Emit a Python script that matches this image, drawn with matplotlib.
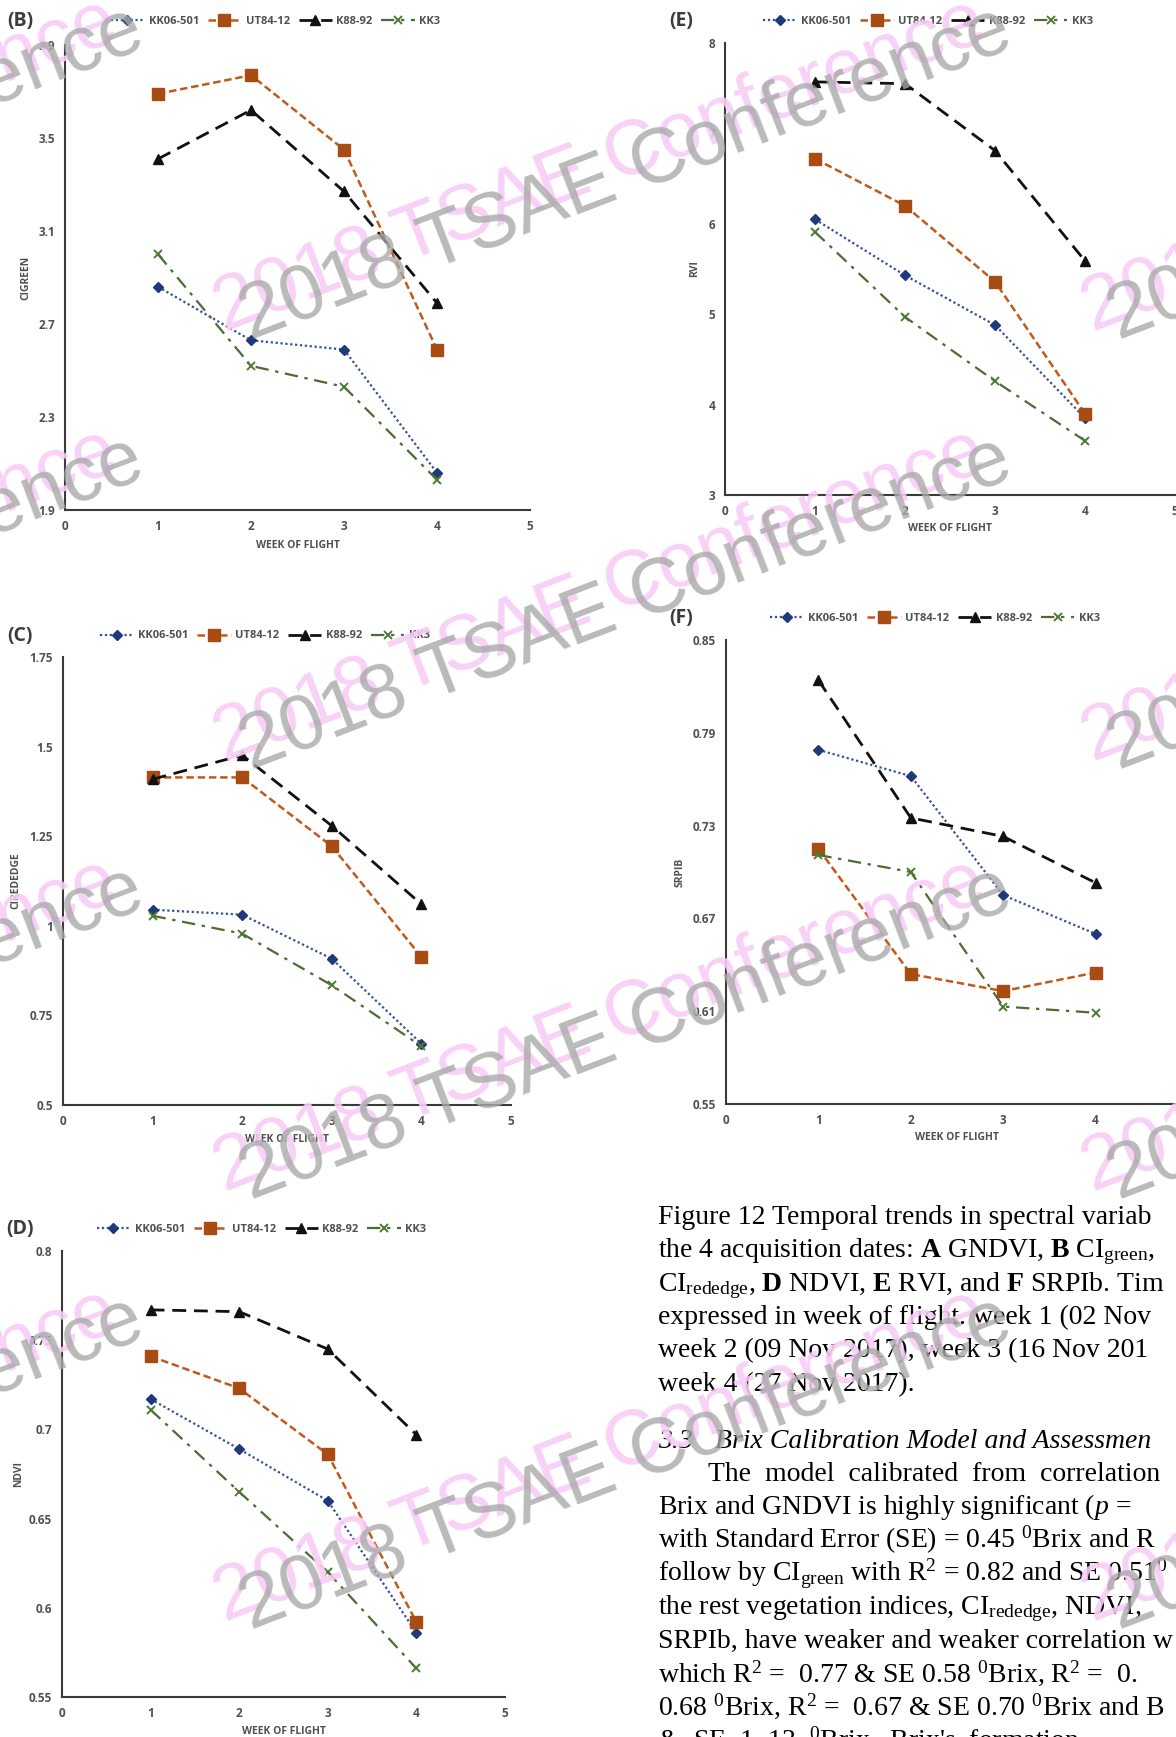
import numpy as np
import matplotlib.pyplot as plt
from matplotlib.lines import Line2D

plt.rcParams['font.family'] = ['Open Sans', 'DejaVu Sans']
plt.rcParams['mathtext.fontset'] = 'custom'
plt.rcParams['mathtext.rm'] = 'Liberation Serif'
plt.rcParams['mathtext.it'] = 'Liberation Serif:italic'
plt.rcParams['mathtext.bf'] = 'Liberation Serif:bold'

W, H = 1176, 1737

# data
weeks = [1, 2, 3, 4]
cultivars = ['KK06-501', 'UT84-12', 'K88-92', 'KK3']

cigreen_kk06 = [2.86, 2.63, 2.59, 2.06]
cigreen_ut84 = [3.69, 3.77, 3.45, 2.59]
cigreen_k88 = [3.41, 3.62, 3.27, 2.79]
cigreen_kk3 = [3.00, 2.52, 2.43, 2.03]

rvi_kk06 = [6.05, 5.43, 4.88, 3.85]
rvi_ut84 = [6.72, 6.20, 5.36, 3.90]
rvi_k88 = [7.57, 7.55, 6.81, 5.59]
rvi_kk3 = [5.91, 4.97, 4.26, 3.60]

ciredge_kk06 = [1.045, 1.031, 0.908, 0.671]
ciredge_ut84 = [1.414, 1.414, 1.222, 0.913]
ciredge_k88 = [1.409, 1.476, 1.279, 1.060]
ciredge_kk3 = [1.028, 0.978, 0.834, 0.664]

srpib_kk06 = [0.779, 0.762, 0.685, 0.660]
srpib_ut84 = [0.715, 0.634, 0.623, 0.635]
srpib_k88 = [0.824, 0.735, 0.723, 0.693]
srpib_kk3 = [0.711, 0.700, 0.613, 0.609]

ndvi_kk06 = [0.717, 0.689, 0.660, 0.586]
ndvi_ut84 = [0.741, 0.723, 0.686, 0.592]
ndvi_k88 = [0.767, 0.766, 0.745, 0.697]
ndvi_kk3 = [0.711, 0.665, 0.620, 0.566]

ticks_cigreen = [1.9, 2.3, 2.7, 3.1, 3.5, 3.9]
ticks_rvi = [3, 4, 5, 6, 7, 8]
ticks_ciredge = [0.5, 0.75, 1, 1.25, 1.5, 1.75]
ticks_srpib = [0.55, 0.61, 0.67, 0.73, 0.79, 0.85]
ticks_ndvi = [0.55, 0.6, 0.65, 0.7, 0.75, 0.8]

fig = plt.figure(figsize=(W / 100, H / 100), dpi=100)

styles = [
    dict(color='#34509a', ls=(0, (1, 1.2)), lw=1.6, marker='D', ms=5,
         mfc='#1f3a7a', mec='#1f3a7a'),
    dict(color='#c05a1c', ls=(0, (3, 1.5)), lw=1.8, marker='s', ms=8,
         mfc='#a84c14', mec='#a84c14'),
    dict(color='#111111', ls=(0, (5, 2.8)), lw=2.0, marker='^', ms=6.5),
    dict(color='#4d6b33', ls=(0, (6, 3, 1.5, 3)), lw=1.6, marker='x', ms=6,
         mew=1.4, mec='#4f7a34'),
]
gray = '#505050'


def add_ax(l, t, r, b):
    return fig.add_axes([l / W, 1 - b / H, (r - l) / W, (b - t) / H])


def panel(tag, series, ylabel, yticks, box, tag_xy, leg_y, ylab_x, xlab_y):
    l, t, r, b = box
    ax = add_ax(l, t, r, b)
    for vals, st in zip(series, styles):
        ax.plot(weeks, vals, **st)
    ax.set_xlim(0, 5)
    ax.set_ylim(yticks[0], yticks[-1])
    ax.set_xticks(range(6))
    ax.set_yticks(yticks)
    ax.set_yticklabels(['%g' % v for v in yticks])
    for s in ['top', 'right']:
        ax.spines[s].set_visible(False)
    for s in ['left', 'bottom']:
        ax.spines[s].set_color('#3a3a3a')
        ax.spines[s].set_linewidth(1.5)
    ax.tick_params(length=0, labelsize=8.5, labelcolor=gray, pad=7)
    for lab in ax.get_xticklabels() + ax.get_yticklabels():
        lab.set_fontweight('bold')
    ax.patch.set_alpha(0)
    fig.text(ylab_x / W, 1 - (t + b) / 2 / H, ylabel, rotation=90, ha='center',
             va='center', fontsize=7.5, fontweight='bold', color=gray)
    fig.text((l + r) / 2 / W, 1 - xlab_y / H, 'WEEK OF FLIGHT', ha='center',
             va='center', fontsize=7.5, fontweight='bold', color=gray)
    fig.text(tag_xy[0] / W, 1 - tag_xy[1] / H, '(%s)' % tag, ha='left',
             va='center', fontsize=14, fontweight='bold', color='#3c3c3c')
    handles = [Line2D([], [], **st) for st in styles]
    fig.legend(handles, cultivars, loc='center',
               bbox_to_anchor=((l + r) / 2 / W - 22 / W, 1 - leg_y / H),
               ncol=4, frameon=False, handlelength=3.0,
               handletextpad=0.4, columnspacing=0.8, borderpad=0,
               prop=dict(weight='bold', size=8), labelcolor=gray)
    return ax


panel('B', [cigreen_kk06, cigreen_ut84, cigreen_k88, cigreen_kk3], 'CIGREEN',
      ticks_cigreen, (65, 45, 530, 510), (7, 21), 21, 26, 545)
panel('E', [rvi_kk06, rvi_ut84, rvi_k88, rvi_kk3], 'RVI',
      ticks_rvi, (725, 43, 1175, 495), (669, 21), 21, 695, 529)
panel('C', [ciredge_kk06, ciredge_ut84, ciredge_k88, ciredge_kk3], 'CIREDEDGE',
      ticks_ciredge, (63, 657, 511, 1105), (7, 636), 636, 16, 1139)
panel('F', [srpib_kk06, srpib_ut84, srpib_k88, srpib_kk3], 'SRPIB',
      ticks_srpib, (726, 640, 1188, 1104), (669, 618), 618, 680, 1138)
panel('D', [ndvi_kk06, ndvi_ut84, ndvi_k88, ndvi_kk3], 'NDVI',
      ticks_ndvi, (62, 1251, 505, 1697), (6, 1229), 1229, 19, 1731)

# caption and body text on the right
serif = 'Liberation Serif'
cap_lines = [
    "Figure 12 Temporal trends in spectral variab",
    r"the 4 acquisition dates: $\mathbf{A}$ GNDVI, $\mathbf{B}$ CI$_{\mathrm{green}}$,",
    r"CI$_{\mathrm{rededge}}$, $\mathbf{D}$ NDVI, $\mathbf{E}$ RVI, and $\mathbf{F}$ SRPIb. Tim",
    "expressed in week of flight. week 1 (02 Nov",
    "week 2 (09 Nov 2017), week 3 (16 Nov 201",
    "week 4 (27 Nov 2017).",
]
for i, s in enumerate(cap_lines):
    fig.text(658 / W, 1 - (1215.5 + 33.4 * i + 8.5) / H, s, fontsize=20,
             family=serif, va='baseline', ha='left')

fig.text(658 / W, 1 - (1439 + 8.5) / H, '3.3', fontsize=20, family=serif,
         style='italic', va='baseline')
fig.text(715 / W, 1 - (1439 + 8.5) / H, 'Brix Calibration Model and Assessmen',
         fontsize=20, family=serif, style='italic', va='baseline')

body_lines = [
    (708, "The  model  calibrated  from  correlation"),
    (658, r"Brix and GNDVI is highly significant ($p$ ="),
    (658, r"with Standard Error (SE) = 0.45 $^{0}$Brix and R"),
    (658, r"follow by CI$_{\mathrm{green}}$ with R$^{2}$ = 0.82 and SE 0.51$^{0}$"),
    (658, r"the rest vegetation indices, CI$_{\mathrm{rededge}}$, NDVI,"),
    (658, "SRPIb, have weaker and weaker correlation w"),
    (658, r"which R$^{2}$ =  0.77 & SE 0.58 $^{0}$Brix, R$^{2}$ =  0."),
    (658, r"0.68 $^{0}$Brix, R$^{2}$ =  0.67 & SE 0.70 $^{0}$Brix and B"),
    (658, r"&  SE  1. 13  $^{0}$Brix.  Brix's  formation"),
]
for i, (x, s) in enumerate(body_lines):
    fig.text(x / W, 1 - (1472.4 + 33.4 * i + 8.5) / H, s, fontsize=20,
             family=serif, va='baseline', ha='left')

# watermark stamps
for y in [332, 762, 1192, 1622]:
    for x in [-643, 225, 1093]:
        fig.text(x / W, 1 - y / H, '2018 TSAE Conference', rotation=21,
                 rotation_mode='anchor', ha='left', va='baseline', fontsize=56,
                 family='Liberation Sans', color='#f8cdf6', alpha=0.9, zorder=20)
        fig.text((x + 26) / W, 1 - (y + 8) / H, '2018 TSAE Conference',
                 rotation=21, rotation_mode='anchor', ha='left', va='baseline',
                 fontsize=56, family='Liberation Sans', color='#a9a9a9',
                 alpha=0.8, zorder=21)

fig.savefig('out.png', dpi=100)
